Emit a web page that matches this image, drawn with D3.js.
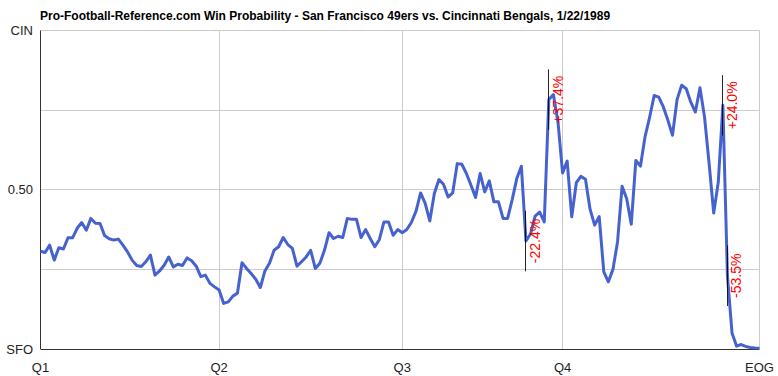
<!DOCTYPE html>
<html>
<head>
<meta charset="utf-8">
<script src="https://cdn.jsdelivr.net/npm/d3@7"></script>
<style>
  body { margin: 0; background: #fff; }
  text { font-family: "Liberation Sans", Arial, Helvetica, sans-serif; }
</style>
</head>
<body>
<svg width="778" height="376"></svg>
<script>
// win probability for CIN after each play (0 = SFO wins, 1 = CIN wins)
let winProb = [
    .307, .303, .326, .279, .318, .314, .349, .349, .379, .397,
    .373, .410, .395, .394, .356, .346, .342, .345, .326, .305,
    .279, .262, .259, .274, .295, .232, .245, .263, .289, .258,
    .266, .262, .286, .277, .260, .227, .232, .206, .195, .185,
    .143, .148, .166, .175, .271, .253, .237, .219, .193, .245,
    .269, .310, .321, .350, .328, .316, .260, .274, .289, .310,
    .253, .269, .310, .365, .347, .354, .350, .410, .407, .407,
    .350, .375, .347, .321, .344, .399, .399, .357, .375, .365,
    .375, .398, .433, .490, .457, .402, .488, .532, .517, .477,
    .490, .582, .580, .551, .514, .476, .551, .493, .528, .462,
    .462, .410, .410, .469, .535, .574, .339, .361, .417, .430,
    .399, .783, .799, .712, .553, .590, .415, .522, .542, .533,
    .439, .389, .416, .242, .211, .250, .336, .511, .472, .392,
    .592, .574, .666, .727, .796, .791, .760, .718, .671, .783,
    .828, .817, .775, .744, .820, .728, .582, .427, .524, .765,
    .230, .050, .009, .014, .008, .005, .003, .002
];

// quarter markers (play number where each quarter starts)
let quarterTicks = [0, 39, 79, 114, 157];
let quarterLabels = ["Q1", "Q2", "Q3", "Q4", "EOG"];

let probTicks = [0, 0.25, 0.5, 0.75, 1];
let probLabels = {0: "SFO", 0.5: "0.50", 1: "CIN"};

// big swing plays
let swingPlays = [106, 111, 149, 150];
let swingLabels = ["-22.4%", "+37.4%", "+24.0%", "-53.5%"];

let title = "Pro-Football-Reference.com Win Probability - San Francisco 49ers vs. Cincinnati Bengals, 1/22/1989";

var svg = d3.select("svg");

var x = d3.scaleLinear()
    .domain([0, winProb.length - 1])
    .range([40.5, 759.5]);

var y = d3.scaleLinear()
    .domain([0, 1])
    .range([349, 30.5]);

function crisp(v) { return Math.round(v - 0.5) + 0.5; }

//title
svg.append("text")
    .attr("x", 40)
    .attr("y", 20)
    .attr("font-size", 12)
    .attr("font-weight", "bold")
    .attr("fill", "#000")
    .text(title);

//horizontal grid
svg.append("g")
    .selectAll("line")
    .data(probTicks.filter(function(d) { return d > 0; }))
    .enter().append("line")
    .attr("x1", x(0))
    .attr("x2", x(winProb.length - 1))
    .attr("y1", function(d) { return crisp(y(d)); })
    .attr("y2", function(d) { return crisp(y(d)); })
    .attr("stroke", "#cccccc");

//vertical grid
svg.append("g")
    .selectAll("line")
    .data(quarterTicks.slice(1))
    .enter().append("line")
    .attr("x1", function(d) { return crisp(x(d)); })
    .attr("x2", function(d) { return crisp(x(d)); })
    .attr("y1", y(1))
    .attr("y2", y(0))
    .attr("stroke", "#cccccc");

//axes lines
svg.append("line")
    .attr("x1", 40.5).attr("x2", 40.5)
    .attr("y1", y(1)).attr("y2", y(0))
    .attr("stroke", "#333");
svg.append("line")
    .attr("x1", 40.5).attr("x2", x(winProb.length - 1))
    .attr("y1", crisp(y(0))).attr("y2", crisp(y(0)))
    .attr("stroke", "#333");

//y labels
svg.append("g")
    .selectAll("text")
    .data(Object.keys(probLabels).map(Number))
    .enter().append("text")
    .attr("x", 33)
    .attr("y", function(d) { return y(d); })
    .attr("dy", "0.36em")
    .attr("text-anchor", "end")
    .attr("font-size", 13)
    .attr("fill", "#222")
    .text(function(d) { return probLabels[d]; });

//x labels
svg.append("g")
    .selectAll("text")
    .data(quarterTicks)
    .enter().append("text")
    .attr("x", function(d) { return x(d); })
    .attr("y", 372)
    .attr("text-anchor", "middle")
    .attr("font-size", 13)
    .attr("fill", "#222")
    .text(function(d, i) { return quarterLabels[i]; });

//win probability line
var line = d3.line()
    .x(function(d, i) { return x(i); })
    .y(function(d) { return y(d); });

svg.append("path")
    .datum(winProb)
    .attr("d", line)
    .attr("fill", "none")
    .attr("stroke", "#4662cf")
    .attr("stroke-width", 3)
    .attr("stroke-linejoin", "round");

//swing markers
var swing = svg.append("g")
    .selectAll("g")
    .data(swingPlays)
    .enter().append("g");

swing.append("line")
    .attr("x1", function(d) { return crisp(x(d)); })
    .attr("x2", function(d) { return crisp(x(d)); })
    .attr("y1", function(d) { return y(winProb[d] + 0.095); })
    .attr("y2", function(d) { return y(winProb[d] - 0.095); })
    .attr("stroke", "#000")
    .attr("stroke-opacity", 0.85);

swing.append("text")
    .attr("transform", function(d) {
        return "translate(" + (x(d) + 9) + "," + y(winProb[d]) + ") rotate(-90)";
    })
    .attr("text-anchor", "middle")
    .attr("dy", "0.36em")
    .attr("font-size", 14)
    .attr("fill", "#ff0000")
    .text(function(d, i) { return swingLabels[i]; });
</script>
</body>
</html>
